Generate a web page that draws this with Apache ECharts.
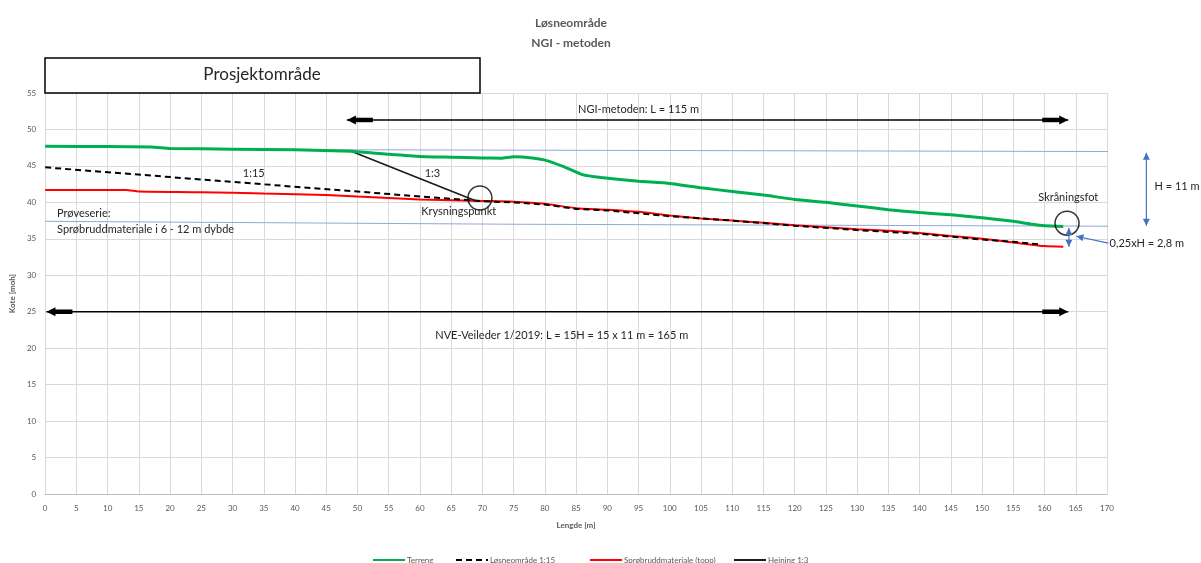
<!DOCTYPE html>
<html>
<head>
<meta charset="utf-8">
<script src="https://cdn.jsdelivr.net/npm/echarts@6/dist/echarts.min.js"></script>
<style>
html, body { margin: 0; padding: 0; background: #fff; }
#chart { width: 1201px; height: 563px; }
</style>
</head>
<body>
<div id="chart"></div>
<script>
// terreng (grønn)
const terrengX = [0, 10, 17, 20, 30, 40, 49, 55, 60, 65, 70, 73, 75, 78, 80, 83, 86, 89, 95, 100, 105, 110, 115, 120, 125, 130, 135, 140, 145, 150, 155, 158, 160, 163];
const terrengY = [47.7, 47.65, 47.6, 47.4, 47.3, 47.2, 47.0, 46.6, 46.3, 46.2, 46.1, 46.05, 46.25, 46.1, 45.8, 44.9, 43.8, 43.4, 42.9, 42.6, 42.0, 41.5, 41.0, 40.4, 40.0, 39.5, 39.0, 38.6, 38.3, 37.9, 37.4, 37.0, 36.8, 36.7];
// sprøbruddmateriale topp (rød)
const sproX = [0, 13, 15, 25, 35, 45, 50, 55, 60, 70, 75, 80, 85, 90, 95, 100, 105, 110, 115, 120, 125, 130, 135, 140, 145, 150, 155, 160, 163];
const sproY = [41.7, 41.7, 41.5, 41.4, 41.2, 41.0, 40.8, 40.6, 40.4, 40.2, 40.1, 39.8, 39.2, 39.0, 38.7, 38.2, 37.8, 37.5, 37.2, 36.85, 36.6, 36.3, 36.1, 35.8, 35.4, 35.0, 34.5, 34.0, 33.9];
// løsneområde 1:15 (stiplet)
const losneX = [0, 70, 75, 80, 85, 90, 100, 110, 120, 130, 140, 150, 155, 159.5];
const losneY = [44.8, 40.15, 40.0, 39.7, 39.1, 38.9, 38.1, 37.5, 36.8, 36.2, 35.7, 34.9, 34.6, 34.2];
// heining 1:3
const heiningX = [49, 69];
const heiningY = [47.0, 40.2];

// blå hjelpelinjer
const topLine = [[30, 47.25], [181, 46.95]];
const footLine = [[0, 37.4], [75, 37.0], [181, 36.7]];

// piler: fra -> til
const arrowFrom = [[48.3, 51.3], [0.2, 25], [176.3, 46.8], [163.9, 36.5], [170.2, 34.4]];
const arrowTo = [[163.8, 51.3], [163.8, 25], [176.3, 36.8], [163.9, 33.9], [165.1, 35.35]];
const arrowKind = ['block', 'block', 'blue2', 'blue2', 'blue1'];

// sirkler
const circles = [[69.6, 40.6], [163.6, 37.15]];

// tekster
const noteText = ['NGI-metoden: L = 115 m', '1:15', '1:3', 'Krysningspunkt', 'Prøveserie:',
  'Sprøbruddmateriale i 6 - 12 m dybde', 'Skråningsfot', 'H = 11 m', '0,25xH = 2,8 m',
  'NVE-Veileder 1/2019: L = 15H = 15 x 11 m = 165 m'];
const noteAt = [[95, 52.7], [33.4, 44.0], [62, 44.0], [66.2, 38.7], [1.9, 38.5],
  [1.9, 36.35], [163.8, 40.7], [177.6, 42.25], [170.4, 34.4], [82.7, 21.8]];
const noteLeft = [4, 5, 7, 8];

const zip = (xs, ys) => xs.map((x, i) => [x, ys[i]]);
const FONT = 'Lato, "Open Sans", sans-serif';

function tri(tip, u, n, len, half) {
  return [tip, [tip[0] - u[0] * len + n[0] * half, tip[1] - u[1] * len + n[1] * half],
    [tip[0] - u[0] * len - n[0] * half, tip[1] - u[1] * len - n[1] * half]];
}

function renderArrow(params, api) {
  const a = api.coord([api.value(0), api.value(1)]);
  const b = api.coord([api.value(2), api.value(3)]);
  const kind = arrowKind[params.dataIndex];
  const dx = b[0] - a[0], dy = b[1] - a[1];
  const L = Math.sqrt(dx * dx + dy * dy);
  const u = [dx / L, dy / L], n = [-u[1], u[0]];
  const back = [-u[0], -u[1]];
  const color = kind === 'block' ? '#000' : '#4472C4';
  const kids = [{
    type: 'line', shape: { x1: a[0], y1: a[1], x2: b[0], y2: b[1] },
    style: { stroke: color, lineWidth: kind === 'block' ? 1.6 : 1.2 }
  }];
  if (kind === 'block') {
    [[a, back], [b, u]].forEach(([p, d]) => {
      kids.push({
        type: 'line',
        shape: { x1: p[0] - d[0] * 26, y1: p[1] - d[1] * 26, x2: p[0] - d[0] * 6, y2: p[1] - d[1] * 6 },
        style: { stroke: '#000', lineWidth: 4.5 }
      });
      kids.push({ type: 'polygon', shape: { points: tri(p, d, n, 9, 4.5) }, style: { fill: '#000' } });
    });
  } else {
    kids.push({ type: 'polygon', shape: { points: tri(b, u, n, 7, 3.5) }, style: { fill: color } });
    if (kind === 'blue2') {
      kids.push({ type: 'polygon', shape: { points: tri(a, back, n, 7, 3.5) }, style: { fill: color } });
    }
  }
  return { type: 'group', children: kids };
}

function renderNote(params, api) {
  const p = api.coord([api.value(0), api.value(1)]);
  const i = params.dataIndex;
  return {
    type: 'text',
    style: {
      text: noteText[i], x: p[0], y: p[1],
      align: noteLeft.indexOf(i) >= 0 ? 'left' : 'center',
      verticalAlign: 'middle',
      fill: '#262626', font: '11px ' + FONT
    }
  };
}

const chart = echarts.init(document.getElementById('chart'));

const legendBase = {
  top: 551, itemWidth: 32, itemHeight: 8, itemGap: 0,
  itemStyle: { opacity: 0, borderWidth: 0 },
  textStyle: { fontSize: 8, color: '#595959', fontFamily: FONT, padding: [0, 0, 0, -3] }
};

chart.setOption({
  animation: false,
  backgroundColor: '#fff',
  grid: { left: 43, right: 94, top: 93, bottom: 69 },
  legend: [
    Object.assign({ left: 367, data: ['Terreng'] }, legendBase),
    Object.assign({ left: 450, data: ['Løsneområde 1:15'] }, legendBase),
    Object.assign({ left: 584, data: ['Sprøbruddmateriale (topp)'] }, legendBase),
    Object.assign({ left: 728, data: ['Heining 1:3'] }, legendBase)
  ],
  graphic: [
    { type: 'text', style: { text: 'Løsneområde', x: 571, y: 23, align: 'center', verticalAlign: 'middle', fill: '#595959', font: 'bold 12px ' + FONT } },
    { type: 'text', style: { text: 'NGI - metoden', x: 571, y: 43, align: 'center', verticalAlign: 'middle', fill: '#595959', font: 'bold 12px ' + FONT } },
    { type: 'rect', shape: { x: 45, y: 58, width: 435, height: 35 }, style: { fill: '#fff', stroke: '#000', lineWidth: 1.5 }, z: 10 },
    { type: 'text', style: { text: 'Prosjektområde', x: 262, y: 75, align: 'center', verticalAlign: 'middle', fill: '#262626', font: '17px ' + FONT }, z: 11 }
  ],
  xAxis: {
    type: 'value', min: 0, max: 170, interval: 5,
    name: 'Lengde [m]', nameLocation: 'middle', nameGap: 27,
    nameTextStyle: { fontSize: 8, fontWeight: 'bold', color: '#595959', fontFamily: FONT },
    axisLine: { lineStyle: { color: '#bfbfbf' } },
    axisTick: { show: false },
    axisLabel: { fontSize: 8, color: '#595959', margin: 10, fontFamily: FONT },
    splitLine: { lineStyle: { color: '#d9d9d9', width: 1 } }
  },
  yAxis: {
    type: 'value', min: 0, max: 55, interval: 5,
    name: 'Kote [moh]', nameLocation: 'middle', nameGap: 24, nameRotate: 90,
    nameTextStyle: { fontSize: 8, fontWeight: 'bold', color: '#595959', fontFamily: FONT },
    axisLine: { show: false },
    axisTick: { show: false },
    axisLabel: { fontSize: 8, color: '#595959', margin: 9, fontFamily: FONT },
    splitLine: { lineStyle: { color: '#d9d9d9', width: 1 } }
  },
  series: [
    {
      name: 'topLine', type: 'line', data: topLine, symbol: 'none', clip: false, silent: true,
      lineStyle: { color: '#8EA9DB', width: 1 }, z: 2
    },
    {
      name: 'footLine', type: 'line', data: footLine, symbol: 'none', clip: false, silent: true,
      lineStyle: { color: '#8EA9DB', width: 1 }, z: 2
    },
    {
      name: 'Sprøbruddmateriale (topp)', type: 'line', data: zip(sproX, sproY), symbol: 'none',
      smooth: 0.2, lineStyle: { color: '#FF0000', width: 2 }, itemStyle: { color: '#FF0000' }, z: 3
    },
    {
      name: 'Løsneområde 1:15', type: 'line', data: zip(losneX, losneY), symbol: 'none',
      lineStyle: { color: '#000', width: 2, type: [6, 4] }, itemStyle: { color: '#000' }, z: 4
    },
    {
      name: 'Heining 1:3', type: 'line', data: zip(heiningX, heiningY), symbol: 'none',
      lineStyle: { color: '#1a1a1a', width: 1.6 }, itemStyle: { color: '#1a1a1a' }, z: 5
    },
    {
      name: 'Terreng', type: 'line', data: zip(terrengX, terrengY), symbol: 'none',
      smooth: 0.15, lineStyle: { color: '#00B050', width: 3 }, itemStyle: { color: '#00B050' }, z: 6
    },
    {
      name: 'circles', type: 'scatter', data: circles, symbol: 'circle', symbolSize: 24, silent: true,
      itemStyle: { color: 'rgba(0,0,0,0)', borderColor: '#000', borderWidth: 1.5 }, z: 7
    },
    {
      name: 'arrows', type: 'custom', clip: false, silent: true, z: 8,
      data: arrowFrom.map((f, i) => [f[0], f[1], arrowTo[i][0], arrowTo[i][1]]),
      renderItem: renderArrow
    },
    {
      name: 'notes', type: 'custom', clip: false, silent: true, z: 9,
      data: noteAt,
      renderItem: renderNote
    }
  ]
});
</script>
</body>
</html>
